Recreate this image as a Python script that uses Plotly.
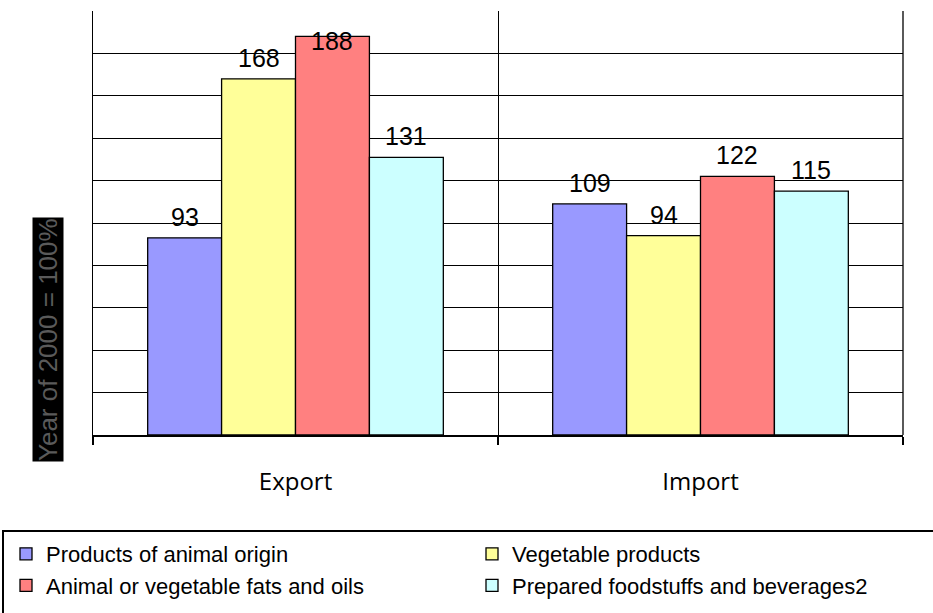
import plotly.graph_objects as go

categories = ["Export", "Import"]
series_names = [
    "Products of animal origin",
    "Vegetable products",
    "Animal or vegetable fats and oils",
    "Prepared foodstuffs and beverages2",
]
animal = [93, 109]
vegetable = [168, 94]
fats = [188, 122]
prepared = [131, 115]
series_values = [animal, vegetable, fats, prepared]
colors = ["#9999FF", "#FFFF99", "#FF8080", "#CCFFFF"]
legend_ids = ["legend", "legend2", "legend", "legend2"]
y_title = "Year of 2000 = 100%"

W, H = 933, 613
ML, MR, MT, MB = 93, 30, 11, 178
PW, PH = W - ML - MR, H - MT - MB
BARGAP = 0.27
N_SERIES = len(series_names)
BAR_PX = PW / len(categories) * (1 - BARGAP) / N_SERIES
Y_MAX = 200


def px_x(p):
    return (p - ML) / PW


def px_y(p):
    return (H - MB - p) / PH


FONT = "Liberation Sans, Arial"

fig = go.Figure()
annotations = []
for i, (name, vals, col, lg) in enumerate(zip(series_names, series_values, colors, legend_ids)):
    fig.add_trace(go.Bar(
        x=categories, y=vals, name=name,
        legend=lg, legendgroup=f"g{i}",
        marker=dict(color=col, line=dict(color="black", width=1.3)),
    ))
    for cat, v in zip(categories, vals):
        # labels sit above the bar; near the top of the axis they overlap the bar top
        shift = 21 if v < 0.9 * Y_MAX else -5
        annotations.append(dict(
            x=cat, y=v, xref="x", yref="y", text=str(v), showarrow=False,
            xanchor="center", yanchor="middle",
            xshift=(i - (N_SERIES - 1) / 2) * BAR_PX, yshift=shift,
            font=dict(family=FONT, size=25, color="black"),
        ))

legend_common = dict(
    orientation="v",
    yanchor="top",
    font=dict(family=FONT, size=22, color="black"),
    bgcolor="rgba(0,0,0,0)",
    borderwidth=0,
    traceorder="normal",
    tracegroupgap=4,
)

annotations.append(dict(
    text=y_title, xref="paper", yref="paper",
    x=px_x(48), y=px_y(340), xanchor="center", yanchor="middle",
    textangle=-90, showarrow=False,
    font=dict(family=FONT, size=26, color="#5a5a5a"),
    bgcolor="black", borderpad=0,
))

fig.update_layout(
    width=W, height=H,
    margin=dict(l=ML, r=MR, t=MT, b=MB, pad=0, autoexpand=False),
    paper_bgcolor="white", plot_bgcolor="white",
    barmode="group", bargap=BARGAP, bargroupgap=0,
    font=dict(family=FONT, color="black"),
    showlegend=True,
    legend=dict(x=px_x(6), xanchor="left", y=px_y(533), **legend_common),
    legend2=dict(x=px_x(472), xanchor="left", y=px_y(533), **legend_common),
    xaxis=dict(
        type="category",
        tickson="boundaries",
        showgrid=True, gridcolor="black", gridwidth=1.3,
        showline=True, linecolor="black", linewidth=2,
        ticks="outside", ticklen=8, tickwidth=2, tickcolor="black",
        tickfont=dict(family="Open Sans, Noto Sans", size=24, color="black"),
        ticklabelstandoff=24,
        zeroline=False,
    ),
    yaxis=dict(
        range=[0, Y_MAX], dtick=20,
        showgrid=True, gridcolor="black", gridwidth=1.3,
        showline=True, linecolor="black", linewidth=1.3,
        showticklabels=False, ticks="",
        zeroline=False,
    ),
    shapes=[
        dict(type="rect", xref="paper", yref="paper",
             x0=px_x(3), x1=px_x(945), y0=px_y(531), y1=px_y(625),
             line=dict(color="black", width=2), fillcolor="rgba(0,0,0,0)",
             layer="above"),
        dict(type="line", xref="paper", yref="paper",
             x0=1, x1=1, y0=0, y1=1,
             line=dict(color="black", width=1.3)),
    ],
    annotations=annotations,
)

fig.write_html("out.html")
